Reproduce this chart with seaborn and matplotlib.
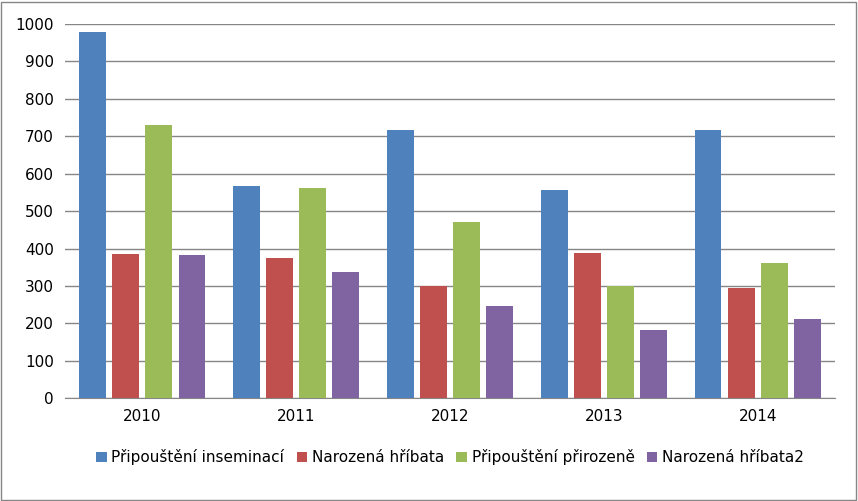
import matplotlib
matplotlib.use("Agg")
import matplotlib.pyplot as plt
import pandas as pd
import seaborn as sns

years = ["2010", "2011", "2012", "2013", "2014"]
series = ["Připouštění inseminací", "Narozená hříbata", "Připouštění přirozeně", "Narozená hříbata2"]
insem = [979, 568, 717, 557, 717]
born = [386, 375, 301, 389, 295]
natural = [731, 562, 471, 301, 362]
born2 = [383, 338, 247, 183, 212]
colors = ["#4f81bd", "#c0504d", "#9bbb59", "#8064a2"]

df = pd.DataFrame({
    "year": years * 4,
    "series": [s for s in series for _ in years],
    "value": insem + born + natural + born2,
})

plt.rcParams["font.family"] = "DejaVu Sans"
fig = plt.figure(figsize=(8.58, 5.01), dpi=100)
ax = fig.add_axes([0.076, 0.205, 0.897, 0.747])
sns.barplot(data=df, x="year", y="value", hue="series", hue_order=series,
            palette=colors, width=0.86, gap=0.2, saturation=1, ax=ax, zorder=3)

ax.set_ylim(0, 1000)
ax.set_yticks(range(0, 1001, 100))
ax.set_xlim(-0.5, 4.5)
ax.grid(axis="y", color="#868686", linewidth=1, zorder=0)
ax.set_axisbelow(True)
for s in ["top", "right", "left"]:
    ax.spines[s].set_visible(False)
ax.spines["bottom"].set_color("#868686")
ax.tick_params(axis="y", length=0, labelsize=11, pad=8)
ax.tick_params(axis="x", length=0, labelsize=11, pad=8)
ax.set_xlabel("")
ax.set_ylabel("")

ax.legend(loc="upper center", bbox_to_anchor=(0.5, -0.1), ncol=4, frameon=False,
          fontsize=11, handlelength=0.7, handleheight=0.7, handletextpad=0.3,
          columnspacing=0.8)

fig.patches.append(plt.Rectangle((0.001, 0.002), 0.997, 0.995, transform=fig.transFigure,
                                 fill=False, edgecolor="#868686", linewidth=1))
fig.savefig("out.png", dpi=100)
